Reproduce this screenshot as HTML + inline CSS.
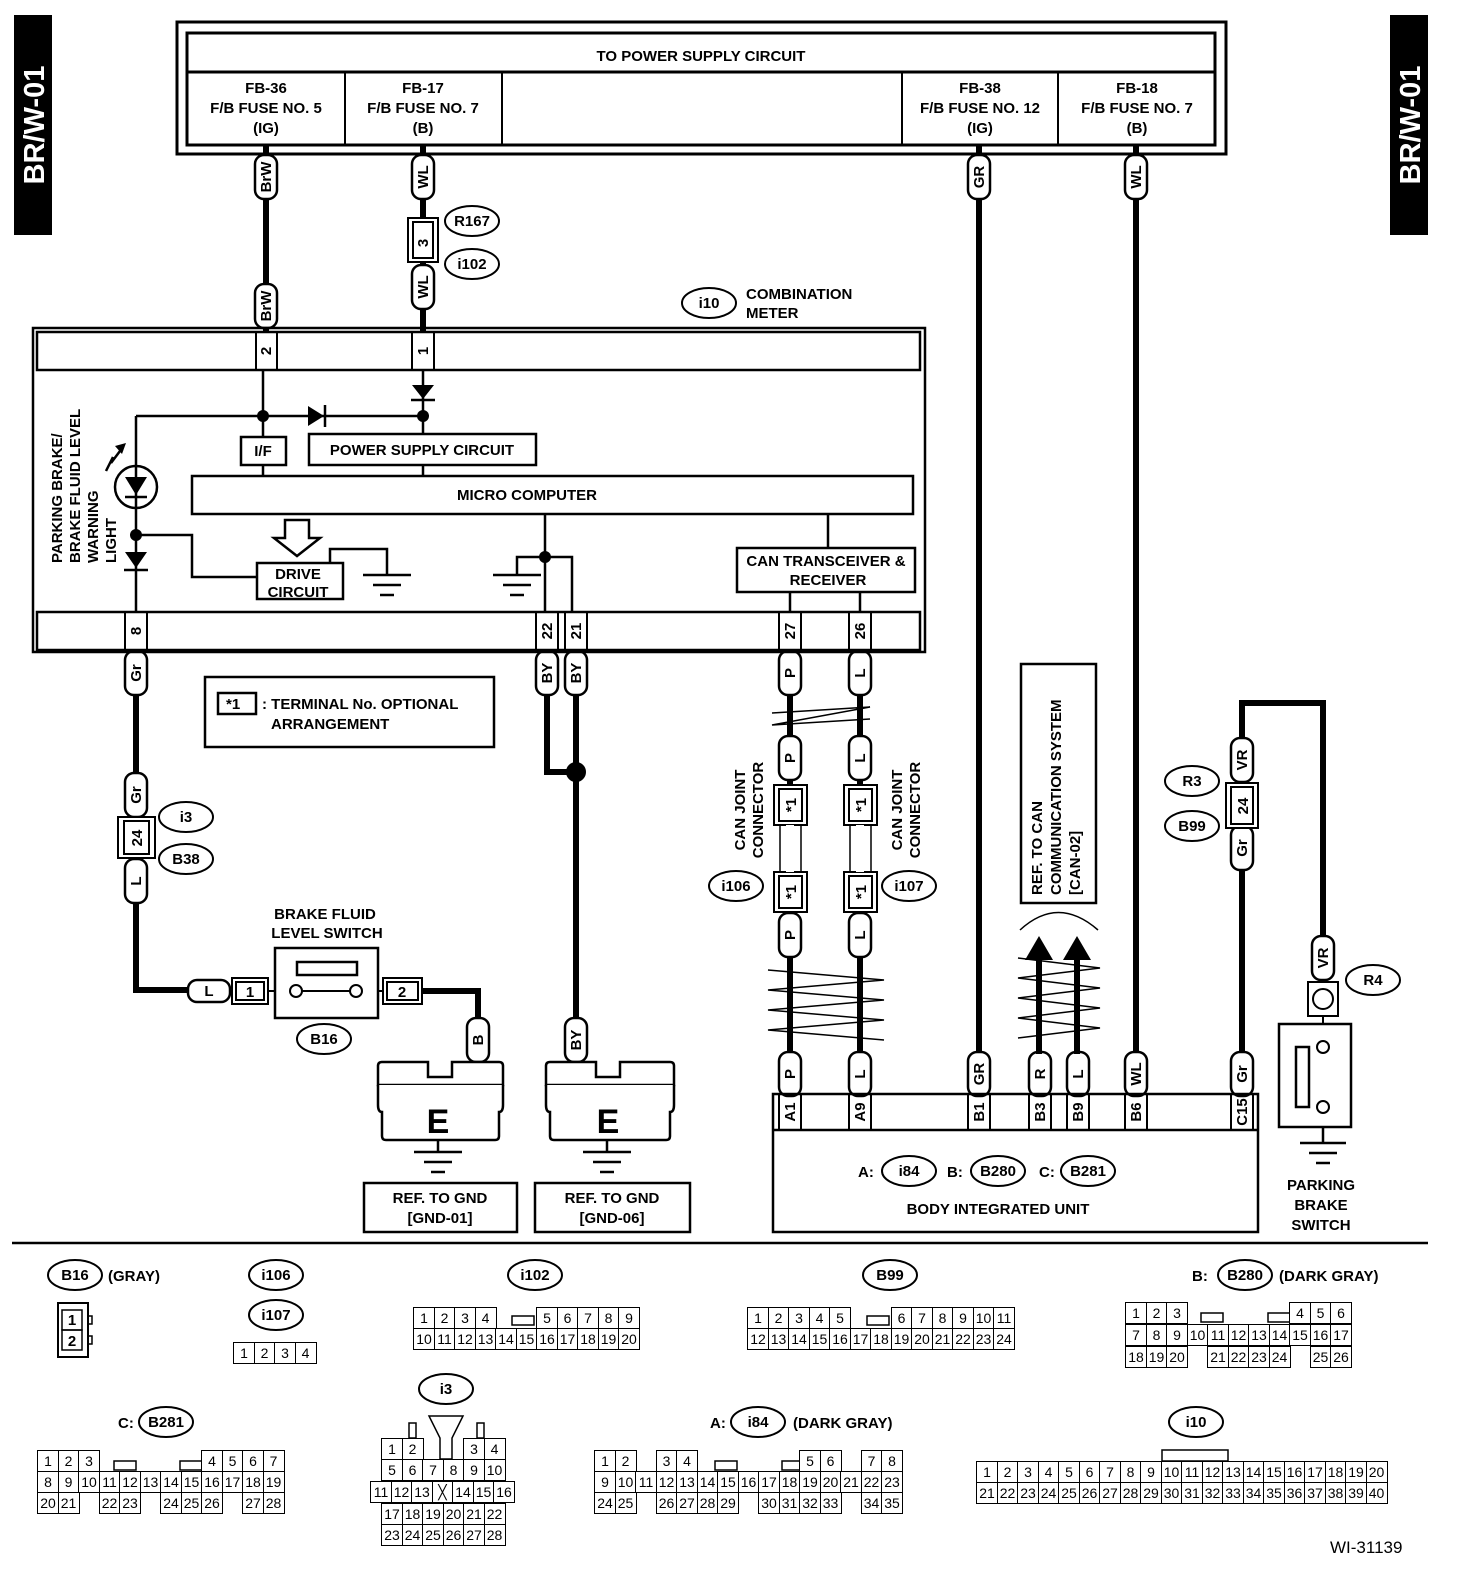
<!DOCTYPE html>
<html><head><meta charset="utf-8">
<style>
*{margin:0;padding:0}
body{width:1472px;height:1582px;background:#fff;position:relative;overflow:hidden;font-family:"Liberation Sans",sans-serif}
svg{position:absolute;left:0;top:0}
svg text{font-family:"Liberation Sans",sans-serif;font-weight:bold;font-size:15px;fill:#000}
.r{position:absolute;display:flex;height:22px}
.r i{font-style:normal;display:block;width:22px;height:22px;box-sizing:border-box;border:1.5px solid #000;margin-right:-1.5px;font-size:14px;text-align:center;line-height:20px;background:#fff}
.r i.e{border-color:transparent;background:transparent}
</style></head><body>
<svg width="1472" height="1582" viewBox="0 0 1472 1582" fill="none" stroke="#000" stroke-width="2">
<!-- tabs -->
<rect x="14" y="15" width="38" height="220" fill="#000" stroke="none"/>
<text transform="translate(44,125) rotate(-90)" text-anchor="middle" stroke="none" style="font-size:29px;fill:#fff">BR/W-01</text>
<rect x="1390" y="15" width="38" height="220" fill="#000" stroke="none"/>
<text transform="translate(1420,125) rotate(-90)" text-anchor="middle" stroke="none" style="font-size:29px;fill:#fff">BR/W-01</text>
<!-- power box -->
<rect x="177" y="22" width="1049" height="132" stroke-width="3"/>
<rect x="187" y="33" width="1028" height="112" stroke-width="3"/>
<line x1="187" y1="72" x2="1215" y2="72" stroke-width="3"/>
<line x1="345" y1="72" x2="345" y2="145" stroke-width="2"/>
<line x1="502" y1="72" x2="502" y2="145" stroke-width="2"/>
<line x1="902" y1="72" x2="902" y2="145" stroke-width="2"/>
<line x1="1058" y1="72" x2="1058" y2="145" stroke-width="2"/>
<g stroke="none" text-anchor="middle">
<text x="701" y="61">TO POWER SUPPLY CIRCUIT</text>
<text x="266" y="93">FB-36</text><text x="266" y="113">F/B FUSE NO. 5</text><text x="266" y="133">(IG)</text>
<text x="423" y="93">FB-17</text><text x="423" y="113">F/B FUSE NO. 7</text><text x="423" y="133">(B)</text>
<text x="980" y="93">FB-38</text><text x="980" y="113">F/B FUSE NO. 12</text><text x="980" y="133">(IG)</text>
<text x="1137" y="93">FB-18</text><text x="1137" y="113">F/B FUSE NO. 7</text><text x="1137" y="133">(B)</text>
</g>
<!-- thick wires -->
<g stroke-width="6">
<line x1="266" y1="145" x2="266" y2="332"/>
<line x1="423" y1="145" x2="423" y2="332"/>
<line x1="979" y1="145" x2="979" y2="1096"/>
<line x1="1136" y1="145" x2="1136" y2="1096"/>
<polyline points="136,650 136,990 190,990"/>
<polyline points="422,991 478,991 478,1064"/>
<polyline points="547,650 547,772 576,772"/>
<line x1="576" y1="650" x2="576" y2="1064"/>
<line x1="790" y1="650" x2="790" y2="1096"/>
<line x1="860" y1="650" x2="860" y2="1096"/>
<polyline points="1242,1096 1242,703 1323,703 1323,940"/>
</g>
<circle cx="576" cy="772" r="9" fill="#000"/>
<!-- R167 connector -->
<rect x="408" y="218" width="30" height="44" fill="#fff" stroke-width="2"/>
<rect x="413" y="222" width="20" height="36" fill="#fff" stroke-width="2"/>
<text transform="translate(428,243) rotate(-90)" text-anchor="middle" stroke="none">3</text>
<!-- wire labels -->
<g fill="#fff" stroke-width="2.5">
<rect x="255" y="155" width="22" height="44" rx="9"/><rect x="255" y="284" width="22" height="44" rx="9"/>
<rect x="412" y="155" width="22" height="44" rx="9"/><rect x="412" y="265" width="22" height="44" rx="9"/>
<rect x="968" y="155" width="22" height="44" rx="9"/><rect x="1125" y="155" width="22" height="44" rx="9"/>
<rect x="125" y="651" width="22" height="44" rx="9"/><rect x="536" y="651" width="22" height="44" rx="9"/><rect x="565" y="651" width="22" height="44" rx="9"/>
<rect x="779" y="651" width="22" height="44" rx="9"/><rect x="849" y="651" width="22" height="44" rx="9"/>
<rect x="125" y="773" width="22" height="44" rx="9"/><rect x="125" y="859" width="22" height="44" rx="9"/>
<rect x="779" y="736" width="22" height="44" rx="9"/><rect x="849" y="736" width="22" height="44" rx="9"/>
<rect x="779" y="913" width="22" height="44" rx="9"/><rect x="849" y="913" width="22" height="44" rx="9"/>
<rect x="467" y="1018" width="22" height="44" rx="9"/><rect x="565" y="1018" width="22" height="44" rx="9"/>
<rect x="779" y="1052" width="22" height="44" rx="9"/><rect x="849" y="1052" width="22" height="44" rx="9"/>
<rect x="968" y="1052" width="22" height="44" rx="9"/><rect x="1029" y="1052" width="22" height="44" rx="9"/>
<rect x="1067" y="1052" width="22" height="44" rx="9"/><rect x="1125" y="1052" width="22" height="44" rx="9"/>
<rect x="1231" y="1052" width="22" height="44" rx="9"/>
<rect x="1231" y="738" width="22" height="44" rx="9"/><rect x="1231" y="826" width="22" height="44" rx="9"/>
<rect x="1312" y="936" width="22" height="44" rx="9"/>
<rect x="188" y="980" width="42" height="22" rx="9"/>
</g>
<g stroke="none" text-anchor="middle" style="font-size:14px">
<text transform="translate(271,177) rotate(-90)">BrW</text><text transform="translate(271,306) rotate(-90)">BrW</text>
<text transform="translate(428,177) rotate(-90)">WL</text><text transform="translate(428,287) rotate(-90)">WL</text>
<text transform="translate(984,177) rotate(-90)">GR</text><text transform="translate(1141,177) rotate(-90)">WL</text>
<text transform="translate(141,673) rotate(-90)">Gr</text><text transform="translate(552,673) rotate(-90)">BY</text><text transform="translate(581,673) rotate(-90)">BY</text>
<text transform="translate(795,673) rotate(-90)">P</text><text transform="translate(865,673) rotate(-90)">L</text>
<text transform="translate(141,795) rotate(-90)">Gr</text><text transform="translate(141,881) rotate(-90)">L</text>
<text transform="translate(795,758) rotate(-90)">P</text><text transform="translate(865,758) rotate(-90)">L</text>
<text transform="translate(795,935) rotate(-90)">P</text><text transform="translate(865,935) rotate(-90)">L</text>
<text transform="translate(483,1040) rotate(-90)">B</text><text transform="translate(581,1040) rotate(-90)">BY</text>
<text transform="translate(795,1074) rotate(-90)">P</text><text transform="translate(865,1074) rotate(-90)">L</text>
<text transform="translate(984,1074) rotate(-90)">GR</text><text transform="translate(1045,1074) rotate(-90)">R</text>
<text transform="translate(1083,1074) rotate(-90)">L</text><text transform="translate(1141,1074) rotate(-90)">WL</text>
<text transform="translate(1247,1074) rotate(-90)">Gr</text>
<text transform="translate(1247,760) rotate(-90)">VR</text><text transform="translate(1247,848) rotate(-90)">Gr</text>
<text transform="translate(1328,958) rotate(-90)">VR</text>
<text x="209" y="996">L</text>
</g>
<!-- ellipses -->
<g fill="#fff" stroke-width="2">
<ellipse cx="472" cy="221" rx="27" ry="15"/><ellipse cx="472" cy="264" rx="27" ry="15"/>
<ellipse cx="709" cy="303" rx="27" ry="15"/>
<ellipse cx="186" cy="817" rx="27" ry="15"/><ellipse cx="186" cy="859" rx="27" ry="15"/>
<ellipse cx="324" cy="1039" rx="27" ry="15"/>
<ellipse cx="736" cy="886" rx="27" ry="15"/><ellipse cx="909" cy="886" rx="27" ry="15"/>
<ellipse cx="1192" cy="781" rx="27" ry="15"/><ellipse cx="1192" cy="826" rx="27" ry="15"/>
<ellipse cx="1373" cy="980" rx="27" ry="15"/>
<ellipse cx="909" cy="1171" rx="27" ry="15"/><ellipse cx="998" cy="1171" rx="27" ry="15"/><ellipse cx="1088" cy="1171" rx="27" ry="15"/>
<ellipse cx="75" cy="1275" rx="27" ry="15"/><ellipse cx="276" cy="1275" rx="27" ry="15"/><ellipse cx="276" cy="1315" rx="27" ry="15"/>
<ellipse cx="535" cy="1275" rx="27" ry="15"/><ellipse cx="890" cy="1275" rx="27" ry="15"/><ellipse cx="1245" cy="1275" rx="27" ry="15"/>
<ellipse cx="446" cy="1389" rx="27" ry="15"/><ellipse cx="166" cy="1422" rx="27" ry="15"/><ellipse cx="758" cy="1422" rx="27" ry="15"/>
<ellipse cx="1196" cy="1422" rx="27" ry="15"/>
</g>
<g stroke="none" text-anchor="middle">
<text x="472" y="226">R167</text><text x="472" y="269">i102</text><text x="709" y="308">i10</text>
<text x="186" y="822">i3</text><text x="186" y="864">B38</text><text x="324" y="1044">B16</text>
<text x="736" y="891">i106</text><text x="909" y="891">i107</text>
<text x="1192" y="786">R3</text><text x="1192" y="831">B99</text><text x="1373" y="985">R4</text>
<text x="909" y="1176">i84</text><text x="998" y="1176">B280</text><text x="1088" y="1176">B281</text>
<text x="75" y="1280">B16</text><text x="276" y="1280">i106</text><text x="276" y="1320">i107</text>
<text x="535" y="1280">i102</text><text x="890" y="1280">B99</text><text x="1245" y="1280">B280</text>
<text x="446" y="1394">i3</text><text x="166" y="1427">B281</text><text x="758" y="1427">i84</text><text x="1196" y="1427">i10</text>
</g>
<g stroke="none">
<text x="746" y="299">COMBINATION</text><text x="746" y="318">METER</text>
</g>
<!-- combination meter -->
<rect x="33" y="328" width="892" height="324" stroke-width="2.5"/>
<rect x="37" y="332" width="883" height="38" stroke-width="2.5" fill="#fff"/>
<rect x="37" y="612" width="883" height="38" stroke-width="2.5" fill="#fff"/>
<g stroke-width="2">
<line x1="256" y1="332" x2="256" y2="370"/><line x1="277" y1="332" x2="277" y2="370"/>
<line x1="412" y1="332" x2="412" y2="370"/><line x1="434" y1="332" x2="434" y2="370"/>
<line x1="125" y1="612" x2="125" y2="650"/><line x1="147" y1="612" x2="147" y2="650"/>
<line x1="536" y1="612" x2="536" y2="650"/><line x1="558" y1="612" x2="558" y2="650"/><line x1="587" y1="612" x2="587" y2="650"/>
<line x1="565" y1="612" x2="565" y2="650"/>
<line x1="779" y1="612" x2="779" y2="650"/><line x1="801" y1="612" x2="801" y2="650"/>
<line x1="849" y1="612" x2="849" y2="650"/><line x1="871" y1="612" x2="871" y2="650"/>
</g>
<g stroke="none" text-anchor="middle" style="font-size:14px">
<text transform="translate(271,351) rotate(-90)">2</text><text transform="translate(428,351) rotate(-90)">1</text>
<text transform="translate(141,631) rotate(-90)">8</text><text transform="translate(552,631) rotate(-90)">22</text>
<text transform="translate(581,631) rotate(-90)">21</text><text transform="translate(795,631) rotate(-90)">27</text>
<text transform="translate(865,631) rotate(-90)">26</text>
</g>
<!-- internal -->
<g stroke-width="2.5">
<line x1="263" y1="370" x2="263" y2="437"/>
<line x1="136" y1="416" x2="423" y2="416"/>
<line x1="423" y1="370" x2="423" y2="434"/>
<line x1="136" y1="416" x2="136" y2="612"/>
<polyline points="136,535 192,535 192,577 257,577"/>
<polyline points="330,563 330,549 387,549 387,575"/>
<line x1="545" y1="514" x2="545" y2="612"/>
<polyline points="545,557 517,557 517,575"/>
<polyline points="545,557 572,557 572,612"/>
<line x1="828" y1="514" x2="828" y2="548"/>
<line x1="790" y1="592" x2="790" y2="612"/><line x1="860" y1="592" x2="860" y2="612"/>
<line x1="263" y1="465" x2="263" y2="476"/><line x1="423" y1="465" x2="423" y2="476"/>
</g>
<g fill="#000" stroke="none">
<circle cx="263" cy="416" r="6"/><circle cx="423" cy="416" r="6"/><circle cx="136" cy="535" r="6"/><circle cx="545" cy="557" r="6"/>
<polygon points="308,406 308,426 324,416"/>
<polygon points="412,385 434,385 423,399"/>
<polygon points="125,477 147,477 136,495"/>
<polygon points="125,552 147,552 136,568"/>
</g>
<g stroke-width="2.5">
<line x1="325" y1="405" x2="325" y2="427"/><line x1="411" y1="400" x2="435" y2="400"/>
<line x1="125" y1="497" x2="147" y2="497"/><line x1="124" y1="570" x2="148" y2="570"/>
<circle cx="136" cy="487" r="21"/>
<polyline points="106,471 113,457 111,463 120,451"/>
</g>
<polygon points="115,446 126,443 122,454" fill="#000" stroke="none"/>
<g stroke-width="2.5">
<line x1="363" y1="575" x2="411" y2="575"/><line x1="373" y1="585" x2="401" y2="585"/><line x1="380" y1="595" x2="394" y2="595"/>
<line x1="493" y1="575" x2="541" y2="575"/><line x1="503" y1="585" x2="531" y2="585"/><line x1="510" y1="595" x2="524" y2="595"/>
</g>
<polygon points="285,520 309,520 309,538 320,538 297,556 274,538 285,538" fill="#fff" stroke-width="2.5"/>
<g stroke-width="2.5" fill="#fff">
<rect x="241" y="437" width="45" height="28"/>
<rect x="309" y="434" width="227" height="31"/>
<rect x="192" y="476" width="721" height="38"/>
<rect x="257" y="563" width="86" height="36"/>
<rect x="737" y="548" width="178" height="44"/>
</g>
<g stroke="none" text-anchor="middle">
<text x="263" y="456">I/F</text><text x="422" y="455">POWER SUPPLY CIRCUIT</text>
<text x="527" y="500">MICRO COMPUTER</text>
<text x="298" y="579">DRIVE</text><text x="298" y="597">CIRCUIT</text>
<text x="826" y="566">CAN TRANSCEIVER &amp;</text><text x="828" y="585">RECEIVER</text>
</g>
<g stroke="none">
<text transform="translate(62,563) rotate(-90)">PARKING BRAKE/</text>
<text transform="translate(80,563) rotate(-90)">BRAKE FLUID LEVEL</text>
<text transform="translate(98,563) rotate(-90)">WARNING</text>
<text transform="translate(116,563) rotate(-90)">LIGHT</text>
</g>
<!-- note box -->
<rect x="205" y="677" width="289" height="70" stroke-width="2.5"/>
<rect x="218" y="693" width="38" height="21" stroke-width="2.5"/>
<g stroke="none"><text x="226" y="709">*1</text><text x="262" y="709">: TERMINAL No. OPTIONAL</text><text x="271" y="729">ARRANGEMENT</text></g>
<!-- i3 connector -->
<rect x="118" y="817" width="37" height="41" stroke-width="2" fill="#fff"/>
<rect x="124" y="821" width="25" height="33" stroke-width="2" fill="#fff"/>
<text transform="translate(142,838) rotate(-90)" text-anchor="middle" stroke="none">24</text>
<!-- brake fluid switch -->
<rect x="232" y="978" width="36" height="26" stroke-width="2" fill="#fff"/><rect x="236" y="982" width="28" height="18" stroke-width="2"/>
<text x="250" y="997" text-anchor="middle" stroke="none">1</text>
<rect x="383" y="978" width="39" height="26" stroke-width="2" fill="#fff"/><rect x="387" y="982" width="31" height="18" stroke-width="2"/>
<text x="402" y="997" text-anchor="middle" stroke="none">2</text>
<line x1="268" y1="991" x2="275" y2="991"/><line x1="378" y1="991" x2="383" y2="991"/>
<rect x="275" y="948" width="103" height="70" stroke-width="2.5" fill="#fff"/>
<rect x="297" y="962" width="60" height="13" stroke-width="2.5"/>
<circle cx="296" cy="991" r="6" fill="#fff"/><circle cx="356" cy="991" r="6" fill="#fff"/>
<line x1="302" y1="991" x2="350" y2="991"/>
<g stroke="none" text-anchor="middle"><text x="325" y="919">BRAKE FLUID</text><text x="327" y="938">LEVEL SWITCH</text></g>
<!-- ground E blocks -->
<g stroke-width="2.5" fill="#fff">
<path d="M378,1085 L378,1066 Q378,1062 382,1062 L428,1062 L428,1077 L452,1077 L452,1062 L499,1062 Q503,1062 503,1066 L503,1085 L378,1085 Z"/>
<path d="M378,1085 L378,1105 Q378,1112 382,1112 L382,1136 Q382,1140 386,1140 L495,1140 Q499,1140 499,1136 L499,1112 Q503,1112 503,1105 L503,1085"/>
<path d="M546,1085 L546,1066 Q546,1062 550,1062 L596,1062 L596,1077 L620,1077 L620,1062 L670,1062 Q674,1062 674,1066 L674,1085 L546,1085 Z"/>
<path d="M546,1085 L546,1105 Q546,1112 550,1112 L550,1136 Q550,1140 554,1140 L666,1140 Q670,1140 670,1136 L670,1112 Q674,1112 674,1105 L674,1085"/>
</g>
<g stroke-width="2.5">
<line x1="438" y1="1140" x2="438" y2="1152"/><line x1="414" y1="1152" x2="462" y2="1152"/><line x1="424" y1="1162" x2="452" y2="1162"/><line x1="431" y1="1172" x2="445" y2="1172"/>
<line x1="607" y1="1140" x2="607" y2="1152"/><line x1="583" y1="1152" x2="631" y2="1152"/><line x1="593" y1="1162" x2="621" y2="1162"/><line x1="600" y1="1172" x2="614" y2="1172"/>
</g>
<g stroke="none" text-anchor="middle"><text x="438" y="1133" style="font-size:34px">E</text><text x="608" y="1133" style="font-size:34px">E</text></g>
<rect x="364" y="1183" width="153" height="49" stroke-width="2.5"/>
<rect x="535" y="1183" width="155" height="49" stroke-width="2.5"/>
<g stroke="none" text-anchor="middle">
<text x="440" y="1203">REF. TO GND</text><text x="440" y="1223">[GND-01]</text>
<text x="612" y="1203">REF. TO GND</text><text x="612" y="1223">[GND-06]</text>
</g>
<!-- CAN twists -->
<g stroke-width="1.5">
<polyline points="772,713 870,707 772,725 870,719"/>
<polyline points="768,970 884,980 768,990 884,1000 768,1010 884,1020 768,1030 884,1040"/>
<polyline points="1018,958 1100,968 1018,978 1100,988 1018,998 1100,1008 1018,1018 1100,1028 1018,1038"/>
</g>
<!-- *1 connectors -->
<g stroke-width="2" fill="#fff">
<rect x="774" y="785" width="33" height="40"/><rect x="779" y="789" width="23" height="32"/>
<rect x="844" y="785" width="33" height="40"/><rect x="849" y="789" width="23" height="32"/>
<rect x="774" y="872" width="33" height="40"/><rect x="779" y="876" width="23" height="32"/>
<rect x="844" y="872" width="33" height="40"/><rect x="849" y="876" width="23" height="32"/>
</g>
<g stroke-width="1.5">
<line x1="780" y1="825" x2="780" y2="872"/><line x1="801" y1="825" x2="801" y2="872"/>
<line x1="850" y1="825" x2="850" y2="872"/><line x1="871" y1="825" x2="871" y2="872"/>
</g>
<line x1="790" y1="825" x2="790" y2="872" stroke="#fff" stroke-width="8"/>
<line x1="860" y1="825" x2="860" y2="872" stroke="#fff" stroke-width="8"/>
<g stroke="none" text-anchor="middle">
<text transform="translate(796,805) rotate(-90)">*1</text><text transform="translate(866,805) rotate(-90)">*1</text>
<text transform="translate(796,892) rotate(-90)">*1</text><text transform="translate(866,892) rotate(-90)">*1</text>
<text transform="translate(745,810) rotate(-90)">CAN JOINT</text><text transform="translate(763,810) rotate(-90)">CONNECTOR</text>
<text transform="translate(902,810) rotate(-90)">CAN JOINT</text><text transform="translate(920,810) rotate(-90)">CONNECTOR</text>
</g>
<!-- REF TO CAN -->
<rect x="1021" y="664" width="75" height="239" stroke-width="2.5"/>
<g stroke="none"><text transform="translate(1042,895) rotate(-90)">REF. TO CAN</text>
<text transform="translate(1061,895) rotate(-90)">COMMUNICATION SYSTEM</text>
<text transform="translate(1080,895) rotate(-90)">[CAN-02]</text></g>
<path d="M1020,930 Q1058,895 1098,930" stroke-width="1.5"/>
<g stroke-width="6"><line x1="1039" y1="955" x2="1039" y2="1054"/><line x1="1077" y1="955" x2="1077" y2="1054"/></g>
<g fill="#000" stroke="none"><polygon points="1025,960 1053,960 1039,936"/><polygon points="1063,960 1091,960 1077,936"/></g>
<!-- body integrated unit -->
<rect x="773" y="1094" width="485" height="138" stroke-width="2.5"/>
<line x1="773" y1="1130" x2="1258" y2="1130" stroke-width="2.5"/>
<g stroke-width="2">
<line x1="779" y1="1094" x2="779" y2="1130"/><line x1="801" y1="1094" x2="801" y2="1130"/>
<line x1="849" y1="1094" x2="849" y2="1130"/><line x1="871" y1="1094" x2="871" y2="1130"/>
<line x1="968" y1="1094" x2="968" y2="1130"/><line x1="990" y1="1094" x2="990" y2="1130"/>
<line x1="1029" y1="1094" x2="1029" y2="1130"/><line x1="1051" y1="1094" x2="1051" y2="1130"/>
<line x1="1067" y1="1094" x2="1067" y2="1130"/><line x1="1089" y1="1094" x2="1089" y2="1130"/>
<line x1="1125" y1="1094" x2="1125" y2="1130"/><line x1="1147" y1="1094" x2="1147" y2="1130"/>
<line x1="1231" y1="1094" x2="1231" y2="1130"/><line x1="1253" y1="1094" x2="1253" y2="1130"/>
</g>
<g stroke="none" text-anchor="middle" style="font-size:14px">
<text transform="translate(795,1112) rotate(-90)">A1</text><text transform="translate(865,1112) rotate(-90)">A9</text>
<text transform="translate(984,1112) rotate(-90)">B1</text><text transform="translate(1045,1112) rotate(-90)">B3</text>
<text transform="translate(1083,1112) rotate(-90)">B9</text><text transform="translate(1141,1112) rotate(-90)">B6</text>
<text transform="translate(1247,1112) rotate(-90)">C15</text>
</g>
<g stroke="none">
<text x="858" y="1177">A:</text><text x="947" y="1177">B:</text><text x="1039" y="1177">C:</text>
<text x="998" y="1214" text-anchor="middle">BODY INTEGRATED UNIT</text>
</g>
<!-- R3 connector -->
<rect x="1226" y="783" width="32" height="45" stroke-width="2" fill="#fff"/>
<rect x="1231" y="787" width="22" height="37" stroke-width="2" fill="#fff"/>
<text transform="translate(1248,806) rotate(-90)" text-anchor="middle" stroke="none">24</text>
<!-- parking brake switch -->
<rect x="1308" y="982" width="30" height="34" stroke-width="2" fill="#fff"/>
<circle cx="1323" cy="999" r="10" stroke-width="2"/>
<line x1="1323" y1="1016" x2="1323" y2="1024"/>
<rect x="1279" y="1024" width="72" height="103" stroke-width="2.5" fill="#fff"/>
<rect x="1296" y="1047" width="13" height="60" stroke-width="2.5"/>
<circle cx="1323" cy="1047" r="6" fill="#fff"/><circle cx="1323" cy="1107" r="6" fill="#fff"/>
<g stroke-width="2.5">
<line x1="1323" y1="1127" x2="1323" y2="1143"/><line x1="1300" y1="1143" x2="1346" y2="1143"/><line x1="1309" y1="1153" x2="1337" y2="1153"/><line x1="1316" y1="1163" x2="1330" y2="1163"/>
</g>
<g stroke="none" text-anchor="middle"><text x="1321" y="1190">PARKING</text><text x="1321" y="1210">BRAKE</text><text x="1321" y="1230">SWITCH</text></g>
<!-- separator -->
<line x1="12" y1="1243" x2="1428" y2="1243" stroke-width="2.5"/>
<!-- bottom labels -->
<g stroke="none">
<text x="108" y="1281">(GRAY)</text>
<text x="1192" y="1281">B:</text><text x="1279" y="1281">(DARK GRAY)</text>
<text x="118" y="1428">C:</text>
<text x="710" y="1428">A:</text><text x="793" y="1428">(DARK GRAY)</text>
<text x="1330" y="1553" style="font-weight:normal;font-size:17px">WI-31139</text>
</g>
<!-- B16 connector -->
<rect x="58" y="1303" width="30" height="54" stroke-width="2"/>
<rect x="62" y="1310" width="20" height="20" stroke-width="1.5"/><rect x="62" y="1330" width="20" height="20" stroke-width="1.5"/>
<rect x="88" y="1316" width="4" height="8" stroke-width="1.5"/><rect x="88" y="1336" width="4" height="8" stroke-width="1.5"/>
<g stroke="none" text-anchor="middle" style="font-size:14px;font-weight:normal"><text x="72" y="1325">1</text><text x="72" y="1346">2</text></g>
<!-- notches -->
<g stroke-width="1.5">
<rect x="512" y="1316" width="22" height="9"/>
<rect x="867" y="1316" width="22" height="9"/>
<rect x="1201" y="1313" width="22" height="9"/><rect x="1268" y="1313" width="22" height="9"/>
<rect x="114" y="1461" width="22" height="9"/><rect x="180" y="1461" width="22" height="9"/>
<rect x="715" y="1461" width="22" height="9"/><rect x="782" y="1461" width="22" height="9"/>
<rect x="1162" y="1450" width="66" height="11"/>
<path d="M429,1416 L463,1416 L452,1438 L452,1459 L440,1459 L440,1438 Z"/>
<rect x="409" y="1423" width="7" height="15"/><rect x="477" y="1423" width="7" height="15"/>
</g>
</svg>

<!-- connector grids -->
<div class="r" style="left:233px;top:1342px"><i>1</i><i>2</i><i>3</i><i>4</i></div>

<div class="r" style="left:413px;top:1307px"><i>1</i><i>2</i><i>3</i><i>4</i><i class="e"></i><i class="e"></i><i>5</i><i>6</i><i>7</i><i>8</i><i>9</i></div>
<div class="r" style="left:413px;top:1328px"><i>10</i><i>11</i><i>12</i><i>13</i><i>14</i><i>15</i><i>16</i><i>17</i><i>18</i><i>19</i><i>20</i></div>

<div class="r" style="left:747px;top:1307px"><i>1</i><i>2</i><i>3</i><i>4</i><i>5</i><i class="e"></i><i class="e"></i><i>6</i><i>7</i><i>8</i><i>9</i><i>10</i><i>11</i></div>
<div class="r" style="left:747px;top:1328px"><i>12</i><i>13</i><i>14</i><i>15</i><i>16</i><i>17</i><i>18</i><i>19</i><i>20</i><i>21</i><i>22</i><i>23</i><i>24</i></div>

<div class="r" style="left:1125px;top:1302px"><i>1</i><i>2</i><i>3</i><i class="e"></i><i class="e"></i><i class="e"></i><i class="e"></i><i class="e"></i><i>4</i><i>5</i><i>6</i></div>
<div class="r" style="left:1125px;top:1324px"><i>7</i><i>8</i><i>9</i><i>10</i><i>11</i><i>12</i><i>13</i><i>14</i><i>15</i><i>16</i><i>17</i></div>
<div class="r" style="left:1125px;top:1346px"><i>18</i><i>19</i><i>20</i><i class="e"></i><i>21</i><i>22</i><i>23</i><i>24</i><i class="e"></i><i>25</i><i>26</i></div>

<div class="r" style="left:37px;top:1450px"><i>1</i><i>2</i><i>3</i><i class="e"></i><i class="e"></i><i class="e"></i><i class="e"></i><i class="e"></i><i>4</i><i>5</i><i>6</i><i>7</i></div>
<div class="r" style="left:37px;top:1471px"><i>8</i><i>9</i><i>10</i><i>11</i><i>12</i><i>13</i><i>14</i><i>15</i><i>16</i><i>17</i><i>18</i><i>19</i></div>
<div class="r" style="left:37px;top:1492px"><i>20</i><i>21</i><i class="e"></i><i>22</i><i>23</i><i class="e"></i><i>24</i><i>25</i><i>26</i><i class="e"></i><i>27</i><i>28</i></div>

<div class="r" style="left:381px;top:1438px"><i>1</i><i>2</i><i class="e"></i><i class="e"></i><i>3</i><i>4</i></div>
<div class="r" style="left:381px;top:1459px"><i>5</i><i>6</i><i>7</i><i>8</i><i>9</i><i>10</i></div>
<div class="r" style="left:370px;top:1481px"><i>11</i><i>12</i><i>13</i><i>&#x2573;</i><i>14</i><i>15</i><i>16</i></div>
<div class="r" style="left:381px;top:1503px"><i>17</i><i>18</i><i>19</i><i>20</i><i>21</i><i>22</i></div>
<div class="r" style="left:381px;top:1524px"><i>23</i><i>24</i><i>25</i><i>26</i><i>27</i><i>28</i></div>

<div class="r" style="left:594px;top:1450px"><i>1</i><i>2</i><i class="e"></i><i>3</i><i>4</i><i class="e"></i><i class="e"></i><i class="e"></i><i class="e"></i><i class="e"></i><i>5</i><i>6</i><i class="e"></i><i>7</i><i>8</i></div>
<div class="r" style="left:594px;top:1471px"><i>9</i><i>10</i><i>11</i><i>12</i><i>13</i><i>14</i><i>15</i><i>16</i><i>17</i><i>18</i><i>19</i><i>20</i><i>21</i><i>22</i><i>23</i></div>
<div class="r" style="left:594px;top:1492px"><i>24</i><i>25</i><i class="e"></i><i>26</i><i>27</i><i>28</i><i>29</i><i class="e"></i><i>30</i><i>31</i><i>32</i><i>33</i><i class="e"></i><i>34</i><i>35</i></div>

<div class="r" style="left:976px;top:1461px"><i>1</i><i>2</i><i>3</i><i>4</i><i>5</i><i>6</i><i>7</i><i>8</i><i>9</i><i>10</i><i>11</i><i>12</i><i>13</i><i>14</i><i>15</i><i>16</i><i>17</i><i>18</i><i>19</i><i>20</i></div>
<div class="r" style="left:976px;top:1482px"><i>21</i><i>22</i><i>23</i><i>24</i><i>25</i><i>26</i><i>27</i><i>28</i><i>29</i><i>30</i><i>31</i><i>32</i><i>33</i><i>34</i><i>35</i><i>36</i><i>37</i><i>38</i><i>39</i><i>40</i></div>
</body></html>
